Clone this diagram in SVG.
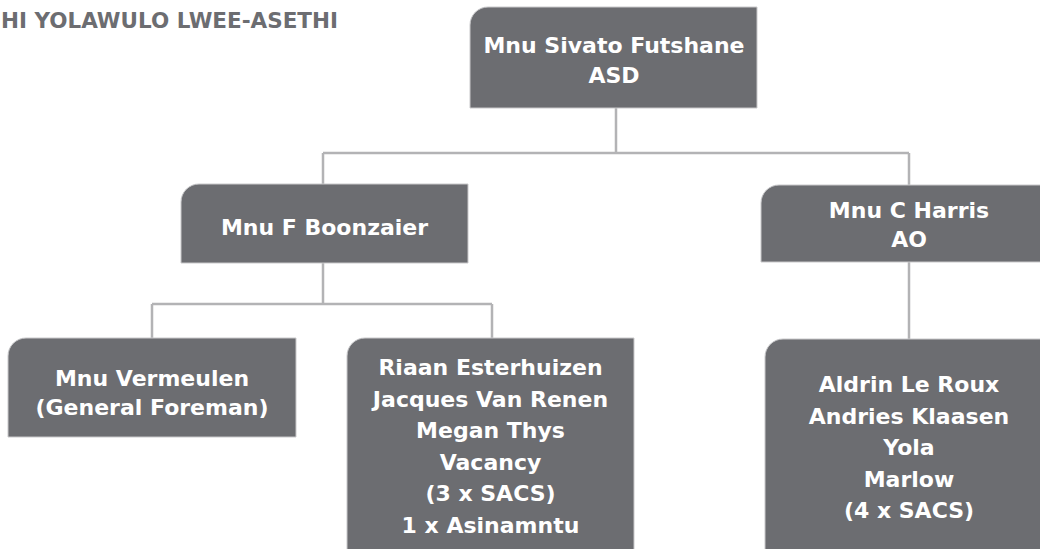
<svg xmlns="http://www.w3.org/2000/svg" width="1040" height="549" viewBox="0 0 1040 549">
<style>
.box{fill:#6c6d71;stroke:#c9c9cb;stroke-width:1}
.lbl{font-family:"DejaVu Sans","Liberation Sans",sans-serif;font-weight:bold;font-size:22px;fill:#ffffff;text-anchor:middle}
.title{font-family:"DejaVu Sans","Liberation Sans",sans-serif;font-weight:bold;font-size:22px;fill:#6c6d71}
.conn{fill:none;stroke:#b3b3b5;stroke-width:2.5}
</style>
<rect width="1040" height="549" fill="#ffffff"/>
<text class="title" x="1" y="28" textLength="337" lengthAdjust="spacingAndGlyphs">HI YOLAWULO LWEE-ASETHI</text>
<g id="connectors">
<path class="conn" d="M616,108 V153 M323,153 H909 M323,153 V184 M909,153 V185"/>
<path class="conn" d="M323,263 V304 M152,304 H492 M152,304 V338 M492,304 V338"/>
<path class="conn" d="M909,262 V339"/>
</g>
<g id="node-futshane">
<path class="box" d="M470,108 V25 A18,18 0 0 1 488,7 H757 V108 Z"/>
<text class="lbl" x="614" y="53">Mnu Sivato Futshane</text>
<text class="lbl" x="614" y="83">ASD</text>
</g>
<g id="node-boonzaier">
<path class="box" d="M181,263 V202 A18,18 0 0 1 199,184 H468 V263 Z"/>
<text class="lbl" x="324.5" y="235">Mnu F Boonzaier</text>
</g>
<g id="node-harris">
<path class="box" d="M761,262 V203 A18,18 0 0 1 779,185 H1060 V262 Z"/>
<text class="lbl" x="909" y="218">Mnu C Harris</text>
<text class="lbl" x="909" y="247">AO</text>
</g>
<g id="node-vermeulen">
<path class="box" d="M8,437 V356 A18,18 0 0 1 26,338 H296 V437 Z"/>
<text class="lbl" x="152" y="386">Mnu Vermeulen</text>
<text class="lbl" x="152" y="415">(General Foreman)</text>
</g>
<g id="node-esterhuizen">
<path class="box" d="M347,560 V356 A18,18 0 0 1 365,338 H634 V560 Z"/>
<text class="lbl" x="490.5" y="375">Riaan Esterhuizen</text>
<text class="lbl" x="490.5" y="406.5">Jacques Van Renen</text>
<text class="lbl" x="490.5" y="438">Megan Thys</text>
<text class="lbl" x="490.5" y="469.5">Vacancy</text>
<text class="lbl" x="490.5" y="501">(3 x SACS)</text>
<text class="lbl" x="490.5" y="532.5">1 x Asinamntu</text>
</g>
<g id="node-leroux">
<path class="box" d="M765,560 V357 A18,18 0 0 1 783,339 H1060 V560 Z"/>
<text class="lbl" x="909" y="392">Aldrin Le Roux</text>
<text class="lbl" x="909" y="423.5">Andries Klaasen</text>
<text class="lbl" x="909" y="455">Yola</text>
<text class="lbl" x="909" y="486.5">Marlow</text>
<text class="lbl" x="909" y="518">(4 x SACS)</text>
</g>
</svg>
